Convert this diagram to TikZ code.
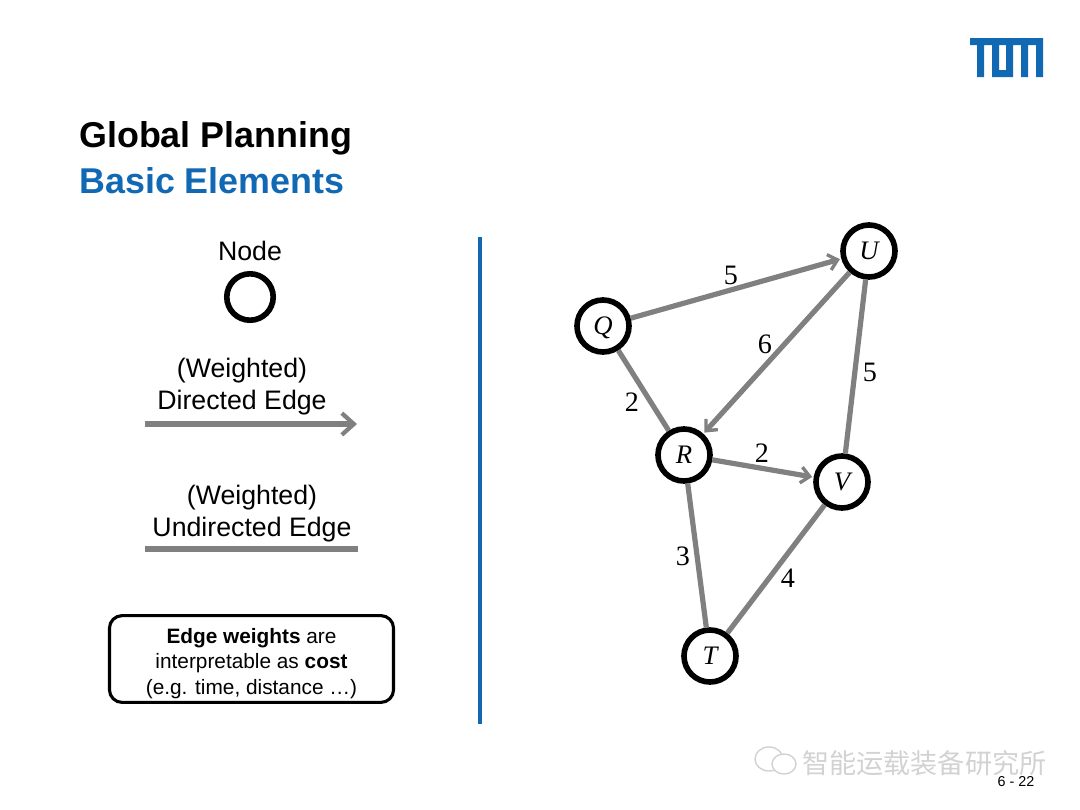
\documentclass[tikz,border=0pt]{standalone}
\usepackage{fontspec}
\setmainfont{Liberation Sans}
\newfontfamily\graphfont{Liberation Serif}
\newfontfamily\cjkfont{Noto Sans CJK SC}
\usetikzlibrary{arrows.meta, positioning}
\definecolor{tumblue}{HTML}{1169B4}
\definecolor{edgegray}{HTML}{808080}
\definecolor{markgray}{HTML}{D2D2D2}

\begin{document}
\begin{tikzpicture}[
    x=0.025cm, y=-0.025cm,
    every node/.style={font=\fontsize{19}{19}\selectfont, inner sep=0pt},
    vert/.style={draw=black, fill=white, circle, line width=4pt, minimum size=1.3cm,
                text height=12.6pt, text depth=0pt, font=\fontsize{19}{19}\graphfont\itshape},
    arr/.style={-{Straight Barb[length=2.2mm, width=4mm, line width=2.4pt]}, draw=edgegray, line width=3.7pt},
    bigarr/.style={-{Straight Barb[length=3mm, width=5.4mm, line width=3pt]}, draw=edgegray, line width=3.7pt},
    edge/.style={draw=edgegray, line width=3.7pt},
    lbl/.style={font=\fontsize{20}{20}\graphfont},
    title/.style={font=\fontsize{25.5}{25.5}\selectfont\bfseries},
    note/.style={draw=black, rounded corners=9pt, line width=2.2pt, minimum width=7.1cm,
                minimum height=2.17cm, align=center, font=\fontsize{14.8}{18}\selectfont}
]
    \useasboundingbox (0,0) rectangle (1080,810);

    \fill[tumblue, even odd rule] (970,38) -- (1043,38) -- (1043,77) -- (1036,77) -- (1036,45) -- (1028,45)
        -- (1028,77) -- (1021,77) -- (1021,45) -- (1013,45) -- (1013,77) -- (992,77) -- (992,45)
        -- (984,45) -- (984,77) -- (977,77) -- (977,45) -- (970,45) -- cycle
        (999,45) rectangle (1006,70);

    \node[title, anchor=west] (t1) at (79,138) {Global Planning};
    \node[title, anchor=west, text=tumblue] (t2) at (79,181) {Basic Elements};

    \node (nlabel) at (250,251) {Node};
    \node[vert, minimum size=1.16cm] (n0) at (250,297) {};

    \node (d1) at (242,371) {(Weighted)};
    \node (d2) at (242,403) {Directed Edge};
    \coordinate (da) at (145,424);
    \coordinate (db) at (357,424);
    \draw[bigarr] (da) -- (db);

    \node (u1) at (252,498) {(Weighted)};
    \node (u2) at (252,530) {Undirected Edge};
    \coordinate (ua) at (145,549);
    \coordinate (ub) at (358,549);
    \draw[edge] (ua) -- (ub);

    \node[note] (cost) at (251.5,659) {\rule{0pt}{17pt}\textbf{Edge weights} are\\interpretable as \textbf{cost}\\(e.g. time, distance \dots)};

    \coordinate (ltop) at (480,237);
    \coordinate (lbot) at (480,724);
    \draw[tumblue, line width=2.9pt] (ltop) -- (lbot);

    \node[vert] (U) at (869,251) {U};
    \node[vert] (Q) at (603,326) {Q};
    \node[vert] (R) at (684,455) {R};
    \node[vert] (V) at (842,482) {V};
    \node[vert] (T) at (710,656) {T};

    \draw[arr, shorten >=1pt] (Q) -- (U);
    \draw[arr, shorten >=1pt] (U) -- (R);
    \draw[arr, shorten >=1pt] (R) -- (V);
    \draw[edge] (Q) -- (R);
    \draw[edge] (U) -- (V);
    \draw[edge] (R) -- (T);
    \draw[edge] (V) -- (T);

    \node[lbl] (w1) at (731,275) {5};
    \node[lbl] (w2) at (765,344) {6};
    \node[lbl] (w3) at (870,372) {5};
    \node[lbl] (w4) at (632,402) {2};
    \node[lbl] (w5) at (762,453) {2};
    \node[lbl] (w6) at (683,556) {3};
    \node[lbl] (w7) at (788,578) {4};

    \draw[markgray, line width=1pt] (769,759) ellipse (14 and 12);
    \draw[markgray, fill=white, line width=1pt] (784,764) ellipse (12 and 10);
    \node[text=markgray, font=\fontsize{19.3}{20}\cjkfont, anchor=west] (mark) at (802,763) {智能运载装备研究所};
    \node[font=\fontsize{10.2}{11}\selectfont] (page) at (1016,782) {6 - 22};
\end{tikzpicture}
\end{document}
